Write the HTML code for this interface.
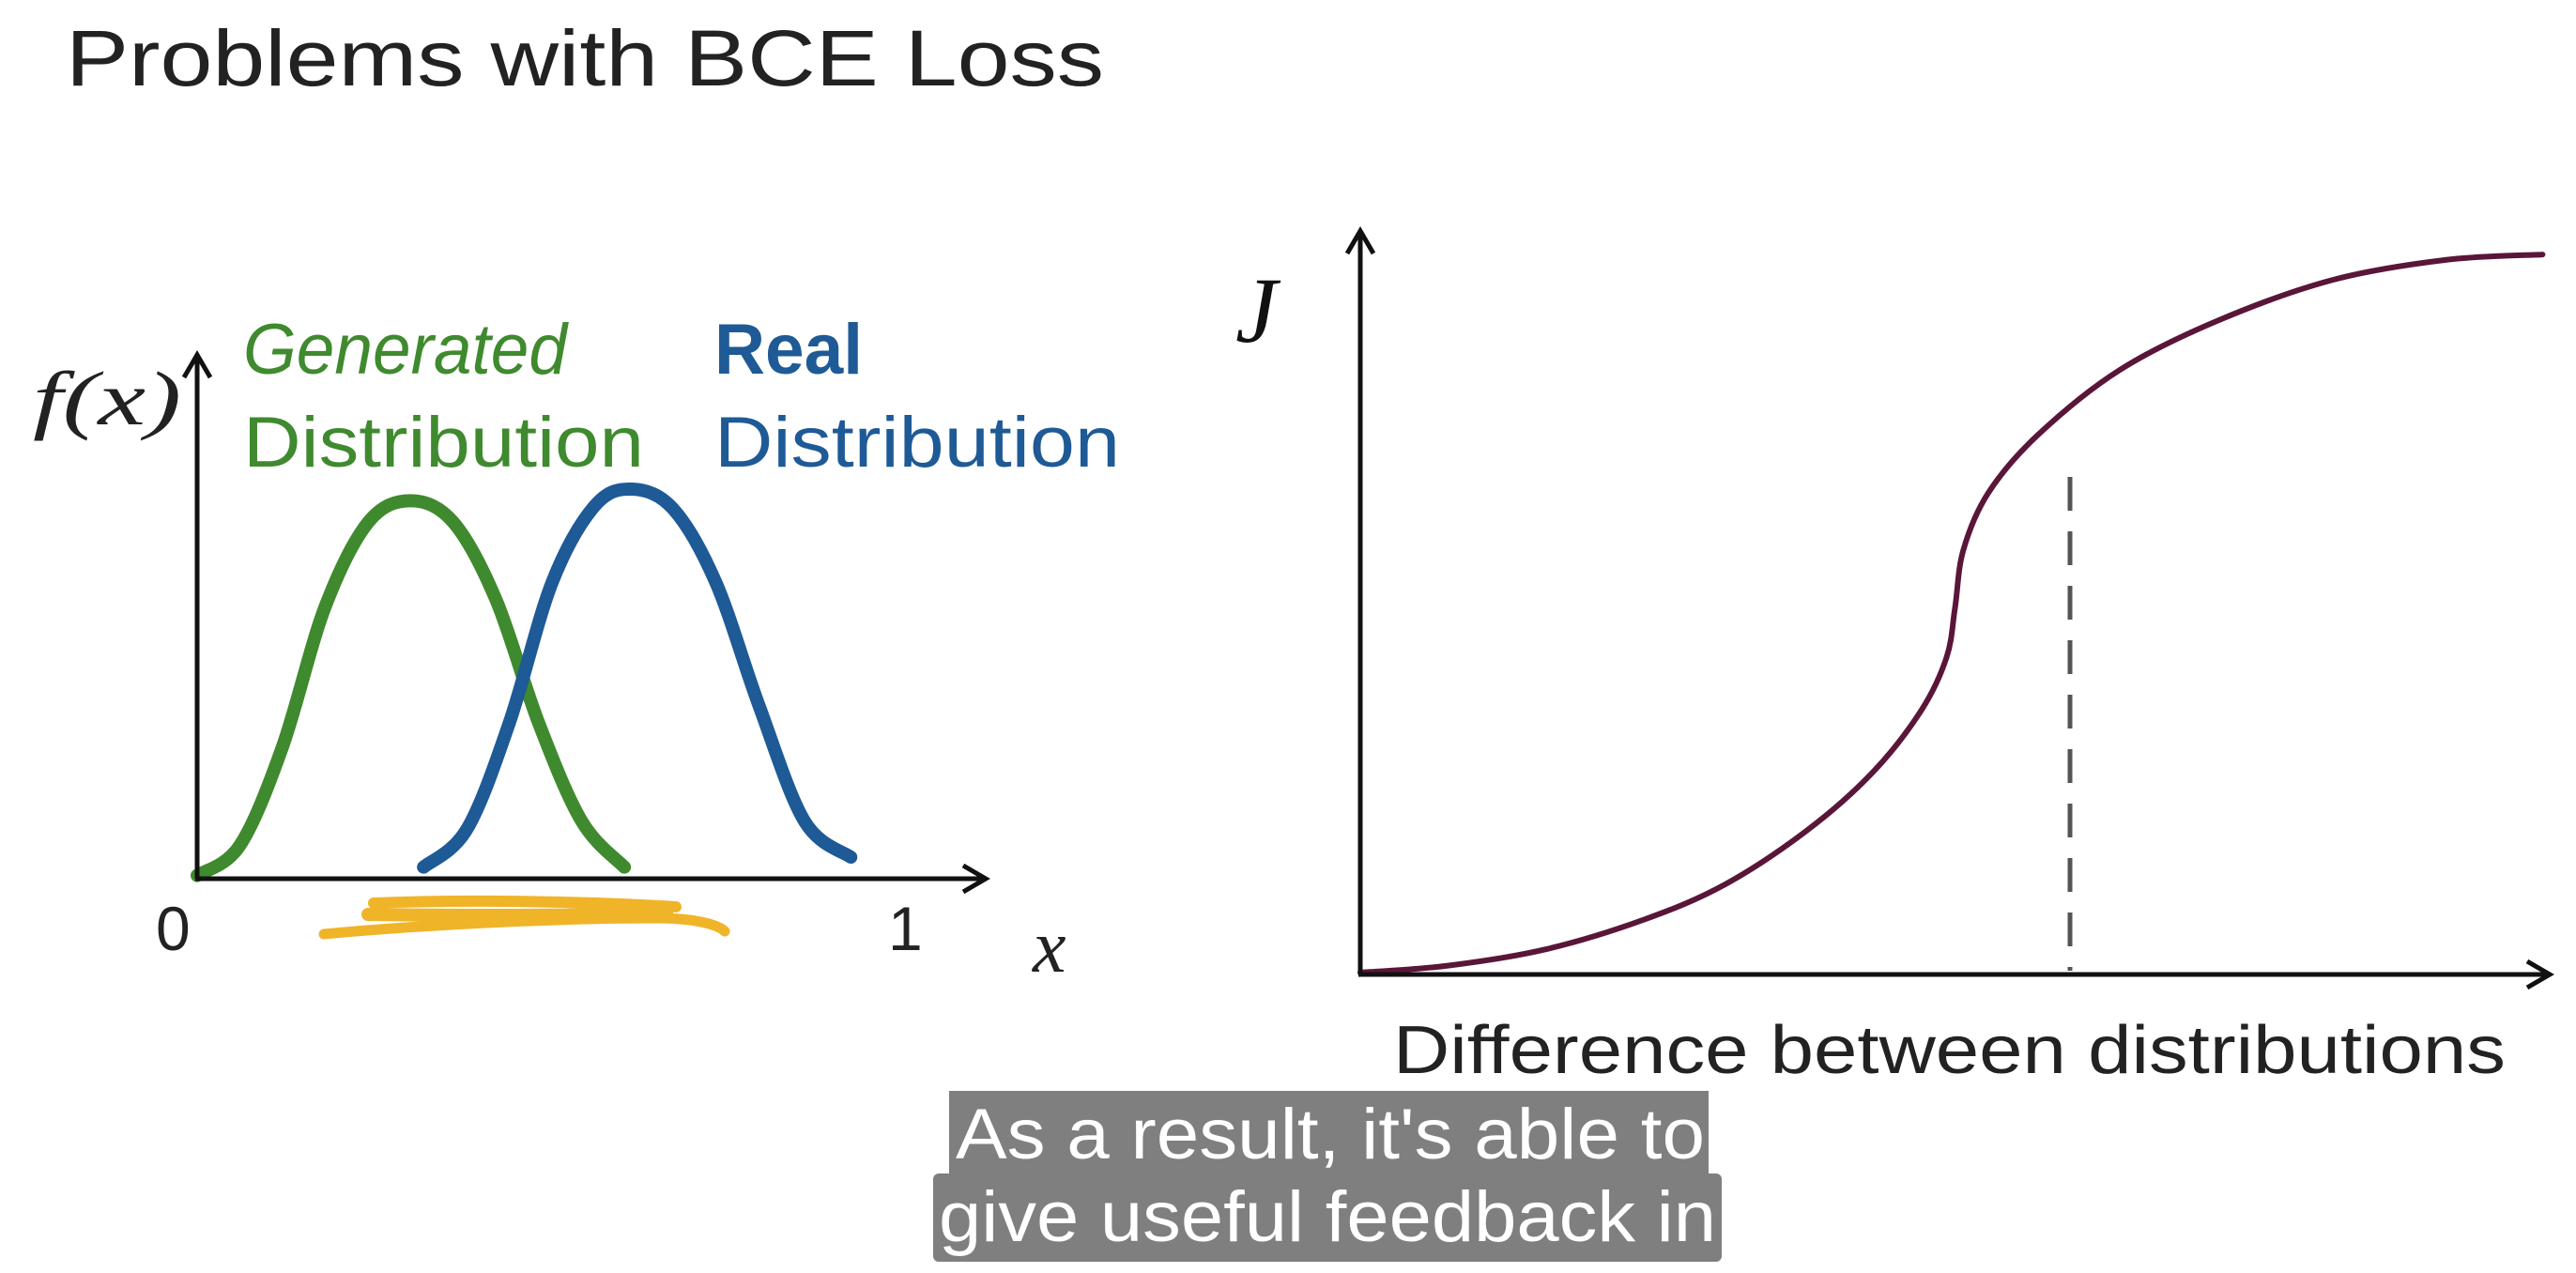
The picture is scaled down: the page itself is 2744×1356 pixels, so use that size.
<!DOCTYPE html>
<html><head><meta charset="utf-8"><style>
html,body{margin:0;padding:0;background:#fff;width:2744px;height:1356px;overflow:hidden}
svg{display:block}
</style></head><body>
<svg id="s" width="2744" height="1356" viewBox="0 0 2744 1356" style="font-family:'Liberation Sans',sans-serif">
<text x="70" y="91" font-size="84" fill="#222" textLength="1106" lengthAdjust="spacingAndGlyphs">Problems with BCE Loss</text>

<g>
<text x="35" y="452" font-size="82" style="font-family:'Liberation Serif',serif;font-style:italic" fill="#222" textLength="158" lengthAdjust="spacingAndGlyphs">f(x)</text>
<text x="259" y="398" font-size="76" font-style="italic" fill="#3f8a2e" textLength="345" lengthAdjust="spacingAndGlyphs">Generated</text>
<text x="259" y="497" font-size="76" fill="#3f8a2e" textLength="427" lengthAdjust="spacingAndGlyphs">Distribution</text>
<text x="761" y="398" font-size="76" font-weight="bold" fill="#1e5a96" textLength="158" lengthAdjust="spacingAndGlyphs">Real</text>
<text x="761" y="497" font-size="76" fill="#1e5a96" textLength="432" lengthAdjust="spacingAndGlyphs">Distribution</text>
<text x="166" y="1012" font-size="66" fill="#222">0</text>
<text x="946" y="1012" font-size="66" fill="#222">1</text>
<text x="1100" y="1035" font-size="80" style="font-family:'Liberation Serif',serif;font-style:italic" fill="#222">x</text>
<g stroke="#f0b429" fill="none" stroke-linecap="round">
<path d="M398,962 C500,958 620,960 720,966" stroke-width="12"/>
<path d="M392,974 C520,976 640,975 710,972" stroke-width="14"/>
<path d="M345,995 C450,985 600,978 700,978 C740,978 765,985 772,992" stroke-width="11"/>
</g>
<g id="left"></g>
<line x1="210" y1="936" x2="210" y2="380" stroke="#111" stroke-width="5"/>
<path d="M196,402 L210,378 L224,402" fill="none" stroke="#111" stroke-width="5"/>
<line x1="208" y1="936" x2="1050" y2="936" stroke="#111" stroke-width="5"/>
<path d="M1026,922 L1050,936 L1026,950" fill="none" stroke="#111" stroke-width="5"/>
</g>

<g>
<text x="1316" y="364" font-size="100" style="font-family:'Liberation Serif',serif;font-style:italic" fill="#111">J</text>
<line x1="2205" y1="508" x2="2205" y2="1034" stroke="#555" stroke-width="5" stroke-dasharray="36,22"/>
<g id="right"></g>
<line x1="1449" y1="1038" x2="1449" y2="248" stroke="#111" stroke-width="5"/>
<path d="M1435,270 L1449,246 L1463,270" fill="none" stroke="#111" stroke-width="5"/>
<line x1="1447" y1="1038" x2="2716" y2="1038" stroke="#111" stroke-width="5"/>
<path d="M2692,1024 L2716,1038 L2692,1052" fill="none" stroke="#111" stroke-width="5"/>
<text x="1484" y="1143" font-size="72" fill="#222" textLength="1185" lengthAdjust="spacingAndGlyphs">Difference between distributions</text>
</g>

<rect x="1011" y="1162" width="809" height="88" fill="#7f7f7f"/>
<rect x="994" y="1250" width="840" height="94" rx="6" fill="#7f7f7f"/>
<text x="1018" y="1234" font-size="76" fill="#fff" textLength="798" lengthAdjust="spacingAndGlyphs">As a result, it's able to</text>
<text x="1000" y="1322" font-size="76" fill="#fff" textLength="828" lengthAdjust="spacingAndGlyphs">give useful feedback in</text>
</svg>
<script>
const greenX=[0,0.06,0.12,0.18,0.241,0.301,0.361,0.421,0.481,0.542,0.602];
const greenY=[0.006,0.063,0.25,0.516,0.678,0.719,0.678,0.531,0.297,0.109,0.022];
const blueX=[0.319,0.38,0.44,0.5,0.56,0.613,0.671,0.731,0.792,0.856,0.921];
const blueY=[0.022,0.094,0.297,0.563,0.709,0.741,0.703,0.563,0.328,0.109,0.041];
const lossX=[0,0.072,0.155,0.238,0.307,0.376,0.431,0.472,0.493,0.500,0.507,0.528,0.569,0.638,0.721,0.818,0.914,0.994];
const lossY=[0,0.009,0.031,0.071,0.119,0.192,0.27,0.354,0.425,0.491,0.569,0.646,0.723,0.811,0.878,0.933,0.96,0.967];

const NS="http://www.w3.org/2000/svg";
function lx(v){return 210+v*756;} function ly(v){return 936-v*560;}
function rx(v){return 1449+v*1267;} function ry(v){return 1036-v*791;}
function smooth(pts){
  let d="M"+pts[0][0]+","+pts[0][1];
  for(let i=0;i<pts.length-1;i++){
    const p0=pts[Math.max(0,i-1)],p1=pts[i],p2=pts[i+1],p3=pts[Math.min(pts.length-1,i+2)];
    const c1=[p1[0]+(p2[0]-p0[0])/6,p1[1]+(p2[1]-p0[1])/6];
    const c2=[p2[0]-(p3[0]-p1[0])/6,p2[1]-(p3[1]-p1[1])/6];
    d+=" C"+c1[0]+","+c1[1]+" "+c2[0]+","+c2[1]+" "+p2[0]+","+p2[1];
  }
  return d;
}
function curve(parent,xs,ys,fx,fy,color,w){
  const p=document.createElementNS(NS,"path");
  p.setAttribute("d",smooth(xs.map((x,i)=>[fx(x),fy(ys[i])])));
  p.setAttribute("fill","none");p.setAttribute("stroke",color);
  p.setAttribute("stroke-width",w);p.setAttribute("stroke-linecap","round");p.setAttribute("stroke-linejoin","round");
  document.getElementById(parent).appendChild(p);
  return p;
}
const g=curve("left",greenX,greenY,lx,ly,"#3f8a2e",14);


const b=curve("left",blueX,blueY,lx,ly,"#1e5a96",14);


const l=curve("right",lossX,lossY,rx,ry,"#5a1638",6);


</script>
</body></html>
